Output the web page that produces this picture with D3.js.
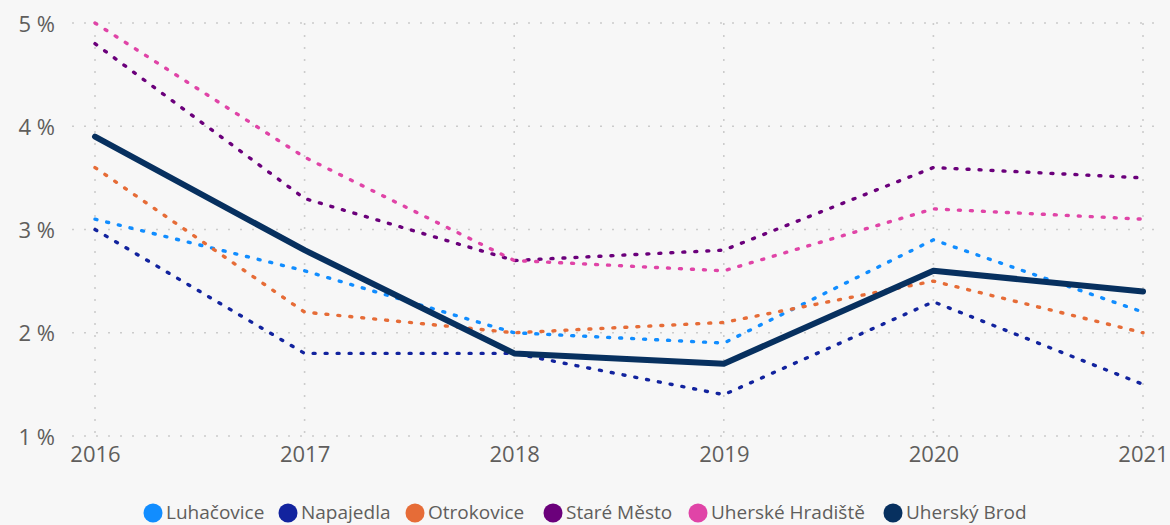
<!DOCTYPE html>
<html>
<head>
<meta charset="utf-8">
<script src="https://cdn.jsdelivr.net/npm/d3@7"></script>
<style>
  html, body { margin: 0; padding: 0; background: #f7f7f7; }
  svg { display: block; }
</style>
</head>
<body>
<svg id="chart" width="1170" height="525"></svg>
<script>
// Years on the x axis
const years = [2016, 2017, 2018, 2019, 2020, 2021];

// Percent values per town
const luhacovice      = [3.1, 2.6, 2.0, 1.9, 2.9, 2.2];
const napajedla       = [3.0, 1.8, 1.8, 1.4, 2.3, 1.5];
const otrokovice      = [3.6, 2.2, 2.0, 2.1, 2.5, 2.0];
const stareMesto      = [4.8, 3.3, 2.7, 2.8, 3.6, 3.5];
const uherskeHradiste = [5.0, 3.7, 2.7, 2.6, 3.2, 3.1];
const uherskyBrod     = [3.9, 2.8, 1.8, 1.7, 2.6, 2.4];

const seriesNames  = ["Luhačovice", "Napajedla", "Otrokovice", "Staré Město", "Uherské Hradiště", "Uherský Brod"];
const seriesValues = [luhacovice, napajedla, otrokovice, stareMesto, uherskeHradiste, uherskyBrod];
const seriesColors = ["#118DFF", "#12239E", "#E66C37", "#6B007B", "#E044A7", "#07305F"];

const yTicks = [1, 2, 3, 4, 5];

const svg = d3.select("#chart");
const font = "'Open Sans', 'Noto Sans', sans-serif";
const textColor = "#605E5C";

const x = d3.scalePoint().domain(years).range([95, 1143]);
const y = d3.scaleLinear().domain([1, 5]).range([436, 23]);

// Dotted gridlines
const grid = svg.append("g");
grid.selectAll("line.h").data(yTicks).join("line")
  .attr("x1", 72).attr("x2", 1160)
  .attr("y1", d => y(d)).attr("y2", d => y(d))
  .attr("stroke", "#cccccc").attr("stroke-width", 1.6)
  .attr("stroke-dasharray", "2,10");
grid.selectAll("line.v").data(years).join("line")
  .attr("x1", d => x(d)).attr("x2", d => x(d))
  .attr("y1", y(5)).attr("y2", y(1))
  .attr("stroke", "#cccccc").attr("stroke-width", 1.6)
  .attr("stroke-dasharray", "2,10");

// Y axis labels
const yAxis = d3.axisLeft(y).tickValues(yTicks).tickFormat(d => d + " %").tickSize(0).tickPadding(0);
svg.append("g").attr("transform", "translate(55,1)").call(yAxis)
  .call(g => g.select(".domain").remove())
  .call(g => g.selectAll("text").attr("font-family", font).attr("font-size", 22).attr("fill", textColor));

// X axis labels
const xAxis = d3.axisBottom(x).tickSize(0).tickPadding(0).tickFormat(d3.format("d"));
svg.append("g").attr("transform", "translate(0,446)").call(xAxis)
  .call(g => g.select(".domain").remove())
  .call(g => g.selectAll("text").attr("font-family", font).attr("font-size", 22).attr("fill", textColor));

// Lines
const line = d3.line().x((d, i) => x(years[i])).y(d => y(d));
seriesValues.forEach((vals, i) => {
  const main = i === seriesValues.length - 1;
  svg.append("path")
    .datum(vals)
    .attr("d", line)
    .attr("fill", "none")
    .attr("stroke", seriesColors[i])
    .attr("stroke-width", main ? 6 : 3.4)
    .attr("stroke-linejoin", "round")
    .attr("stroke-linecap", "round")
    .attr("stroke-dasharray", main ? null : "2,10");
});

// Legend
const legendX = [153, 288, 415, 553, 698, 893];
const legend = svg.append("g");
seriesNames.forEach((name, i) => {
  legend.append("circle")
    .attr("cx", legendX[i]).attr("cy", 513).attr("r", 9.5)
    .attr("fill", seriesColors[i]);
  legend.append("text")
    .attr("x", legendX[i] + 13).attr("y", 519)
    .attr("font-family", font).attr("font-size", 19)
    .attr("fill", textColor)
    .text(name);
});
</script>
</body>
</html>
